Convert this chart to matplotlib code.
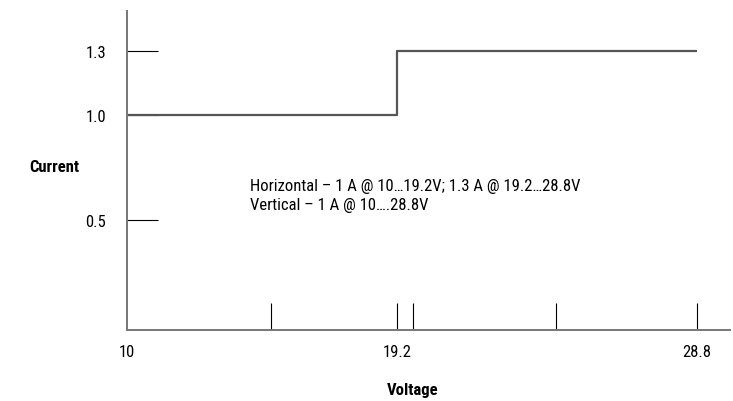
import numpy as np
import matplotlib
matplotlib.use("Agg")
import matplotlib.pyplot as plt
from matplotlib.ticker import FixedLocator, NullFormatter

plt.rcParams['font.family'] = ['Roboto Condensed', 'Liberation Sans Narrow', 'Roboto', 'DejaVu Sans']

# Datos de la curva (escalón de corriente)
voltaje = [10, 19.2, 19.2, 28.8]
corriente = [1.0, 1.0, 1.3, 1.3]

# Ticks
x_ticks = [10, 19.2, 28.8]
x_labels = ['10', '19.2', '28.8']
x_minor = [14.9, 19.7, 24.3]
y_ticks = [0.5, 1.0, 1.3]
y_labels = ['0.5', '1.0', '1.3']

nota = "Horizontal – 1 A @ 10…19.2V; 1.3 A @ 19.2…28.8V\nVertical – 1 A @ 10….28.8V"


# escala esquemática por tramos (el dibujo original no es lineal)
def fwd(x):
    x = np.asarray(x, dtype=float)
    return np.where(x <= 19.2, (x - 10) * 270 / 9.2, 270 + (x - 19.2) * 300 / 9.6)


def inv(u):
    u = np.asarray(u, dtype=float)
    return np.where(u <= 270, 10 + u * 9.2 / 270, 19.2 + (u - 270) * 9.6 / 300)


fig = plt.figure(figsize=(7.33, 4.02), dpi=100)
ax = fig.add_axes([127 / 733, 71 / 402, 603 / 733, 319 / 402])
ax.set_xscale('function', functions=(fwd, inv))

ax.plot(voltaje, corriente, color='#555555', lw=1.6, solid_capstyle='butt')

ax.set_xlim(10, 29.86)
ax.set_ylim(-0.02, 1.49)

for s in ['top', 'right']:
    ax.spines[s].set_visible(False)
for s in ['left', 'bottom']:
    ax.spines[s].set_color('#777777')
    ax.spines[s].set_linewidth(1.4)

ax.xaxis.set_major_locator(FixedLocator(x_ticks))
ax.set_xticklabels(x_labels)
ax.xaxis.set_minor_locator(FixedLocator(x_minor))
ax.xaxis.set_minor_formatter(NullFormatter())
ax.set_yticks(y_ticks)
ax.set_yticklabels(y_labels)
ax.yaxis.set_minor_locator(FixedLocator([]))

ax.tick_params(axis='x', which='both', direction='in', length=19.4, width=0.8,
               color='black', pad=10, labelsize=12)
ax.tick_params(axis='y', direction='in', length=22.3, width=0.8,
               color='black', pad=15, labelsize=12)
ax.xaxis.get_major_ticks()[0].tick1line.set_visible(False)

ax.text(0.204, 0.423, nota, transform=ax.transAxes, fontsize=12,
        va='center', ha='left', linespacing=1.35)

fig.text(54 / 733, 1 - 167 / 402, 'Current', fontsize=12, fontweight='bold',
         ha='center', va='center')
fig.text(413 / 733, 1 - 391 / 402, 'Voltage', fontsize=12, fontweight='bold',
         ha='center', va='center')

fig.savefig('out.png', dpi=100)
